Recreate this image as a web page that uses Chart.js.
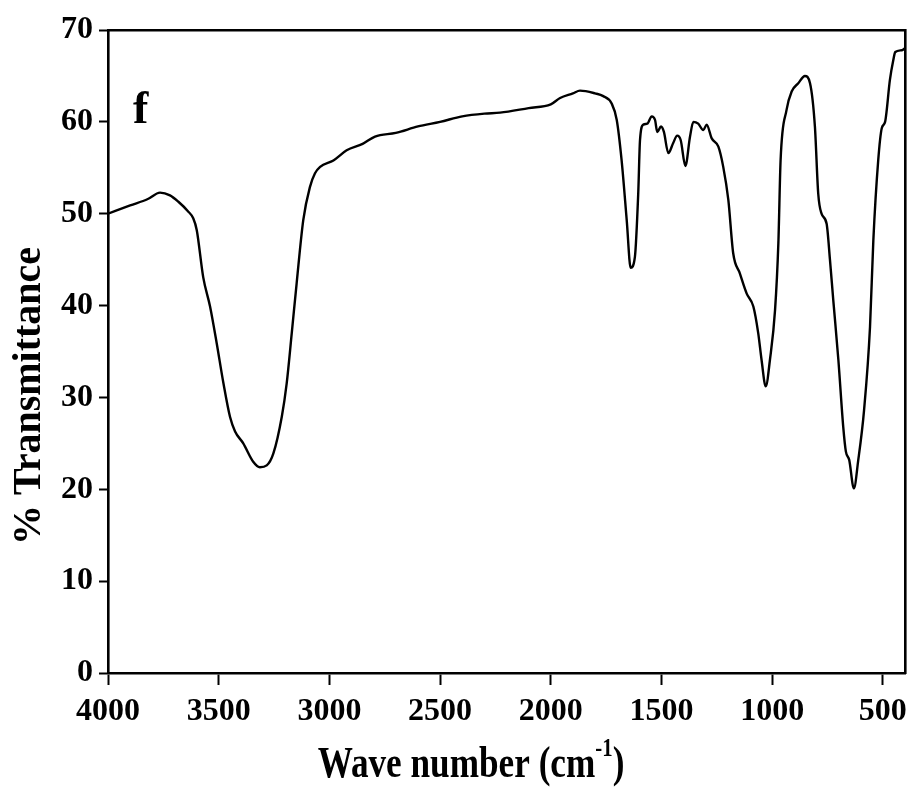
<!DOCTYPE html>
<html>
<head>
<meta charset="utf-8">
<title>FTIR f</title>
<script src="https://cdn.jsdelivr.net/npm/chart.js@4.4.1/dist/chart.umd.min.js"></script>
<style>
  html, body { margin: 0; padding: 0; background: #fff; }
  #wrap { width: 909px; height: 787px; position: relative; }
</style>
</head>
<body>
<div id="wrap"><canvas id="ftirChart"></canvas></div>
<script>
// Espectro (numero de onda em cm-1, % transmitancia)
const waveNumbers = [
  4000, 3900, 3820, 3765, 3720, 3682, 3640, 3615, 3599, 3570,
  3539, 3509, 3479, 3449, 3426, 3389, 3344, 3314, 3283, 3253,
  3215, 3193, 3170, 3148, 3118, 3088, 3065, 3042, 2982, 2922,
  2850, 2794, 2700, 2600, 2500, 2400, 2300, 2229, 2100, 2000,
  1958, 1900, 1868, 1800, 1763, 1725, 1702, 1680, 1657, 1639,
  1620, 1605, 1597, 1582, 1564, 1544, 1529, 1519, 1502, 1489,
  1469, 1447, 1429, 1413, 1392, 1371, 1356, 1334, 1311, 1296,
  1273, 1243, 1221, 1198, 1176, 1146, 1115, 1085, 1063, 1048,
  1029, 1010, 987, 972, 962, 935, 912, 882, 852, 829,
  807, 792, 777, 754, 739, 724, 701, 679, 667, 652,
  631, 611, 585, 558, 543, 521, 505, 490, 468, 453,
  444, 414, 400
];
const transmittance = [
  50.0, 50.9, 51.6, 52.3, 52.0, 51.3, 50.3, 49.5, 48.2, 43.1,
  39.9, 35.9, 31.6, 27.9, 26.3, 25.0, 23.0, 22.4, 22.6, 23.9,
  27.9, 31.5, 37.0, 42.4, 49.3, 52.9, 54.4, 55.1, 55.8, 56.9,
  57.6, 58.4, 58.8, 59.5, 60.0, 60.6, 60.9, 61.0, 61.5, 61.9,
  62.6, 63.1, 63.4, 63.1, 62.8, 62.0, 60.2, 55.8, 49.3, 44.1,
  45.3, 52.2, 58.0, 59.7, 59.8, 60.6, 60.2, 58.9, 59.5, 58.9,
  56.6, 57.7, 58.5, 58.0, 55.2, 58.4, 60.0, 59.8, 59.1, 59.7,
  58.2, 57.3, 55.1, 51.5, 45.7, 43.5, 41.3, 39.9, 37.0, 34.1,
  31.2, 34.1, 39.5, 46.8, 55.8, 61.3, 63.3, 64.2, 65.0, 64.2,
  59.5, 52.2, 50.0, 48.9, 45.0, 40.6, 34.1, 26.8, 24.1, 23.2,
  20.1, 23.2, 28.6, 37.7, 47.1, 55.8, 59.3, 60.0, 64.6, 66.7,
  67.6, 67.8, 68.0
];
const xTicks = [4000, 3500, 3000, 2500, 2000, 1500, 1000, 500];
const yTicks = [0, 10, 20, 30, 40, 50, 60, 70];

const serif = "'Liberation Serif', 'Times New Roman', serif";

// Textos desenhados a mao: rotulo "f" e titulos dos eixos
const textos = {
  id: 'textos',
  afterDraw(chart) {
    const ctx = chart.ctx;
    const area = chart.chartArea;
    ctx.save();
    ctx.fillStyle = '#000';

    // letra "f" do painel
    ctx.font = 'bold 46px ' + serif;
    ctx.textAlign = 'left';
    ctx.textBaseline = 'alphabetic';
    ctx.fillText('f', area.left + 25, area.top + 93);

    // titulo do eixo y
    ctx.save();
    ctx.translate(28, 396);
    ctx.rotate(-Math.PI / 2);
    ctx.font = 'bold 40px ' + serif;
    ctx.textAlign = 'center';
    ctx.textBaseline = 'middle';
    ctx.fillText('% Transmittance', 0, 2);
    ctx.restore();

    // titulo do eixo x com expoente
    ctx.save();
    ctx.translate(471, 777);
    ctx.scale(0.8, 1);
    const parte1 = 'Wave number (cm';
    ctx.font = 'bold 44px ' + serif;
    const w1 = ctx.measureText(parte1).width;
    ctx.font = 'bold 26px ' + serif;
    const wSup = ctx.measureText('-1').width;
    ctx.font = 'bold 44px ' + serif;
    const w2 = ctx.measureText(')').width;
    let x = -(w1 + wSup + w2) / 2;
    ctx.textAlign = 'left';
    ctx.textBaseline = 'alphabetic';
    ctx.fillText(parte1, x, 0);
    x += w1;
    ctx.font = 'bold 26px ' + serif;
    ctx.fillText('-1', x, -21);
    x += wSup;
    ctx.font = 'bold 44px ' + serif;
    ctx.fillText(')', x, 0);
    ctx.restore();

    ctx.restore();
  }
};

const pontos = waveNumbers.map((w, i) => ({ x: w, y: transmittance[i] }));

new Chart(document.getElementById('ftirChart'), {
  type: 'line',
  data: {
    datasets: [{
      data: pontos,
      borderColor: '#000',
      borderWidth: 2.4,
      pointRadius: 0,
      fill: false,
      cubicInterpolationMode: 'monotone'
    }]
  },
  options: {
    responsive: true,
    maintainAspectRatio: false,
    animation: false,
    layout: { padding: { top: 30, right: 4, bottom: 0, left: 0 } },
    plugins: { legend: { display: false }, tooltip: { enabled: false } },
    scales: {
      x: {
        type: 'linear',
        reverse: true,
        min: 400,
        max: 4000,
        afterBuildTicks: s => { s.ticks = xTicks.map(v => ({ value: v })); },
        afterFit: s => { s.height = 114; s.paddingLeft = 0; s.paddingRight = 0; },
        border: { display: true, color: '#000', width: 2.6 },
        grid: { display: true, drawOnChartArea: false, drawTicks: true, tickLength: 12, tickWidth: 2, color: '#000' },
        ticks: {
          color: '#000', padding: 8, maxRotation: 0,
          callback: v => String(v),
          font: { family: serif, size: 32, weight: 'bold' }
        }
      },
      y: {
        min: 0,
        max: 70,
        afterBuildTicks: s => { s.ticks = yTicks.map(v => ({ value: v })); },
        afterFit: s => { s.width = 108; s.paddingTop = 0; s.paddingBottom = 0; },
        border: { display: true, color: '#000', width: 2.6 },
        grid: { display: true, drawOnChartArea: false, drawTicks: true, tickLength: 9, tickWidth: 2, color: '#000' },
        ticks: {
          color: '#000', padding: 6,
          callback: v => String(v),
          font: { family: serif, size: 32, weight: 'bold' }
        }
      },
      x2: {
        type: 'linear',
        position: 'top',
        afterFit: s => { s.height = 0; },
        border: { display: true, color: '#000', width: 2.6 },
        grid: { display: false },
        ticks: { display: false }
      },
      y2: {
        position: 'right',
        afterFit: s => { s.width = 0; },
        border: { display: true, color: '#000', width: 2.6 },
        grid: { display: false },
        ticks: { display: false }
      }
    }
  },
  plugins: [textos]
});
</script>
</body>
</html>
